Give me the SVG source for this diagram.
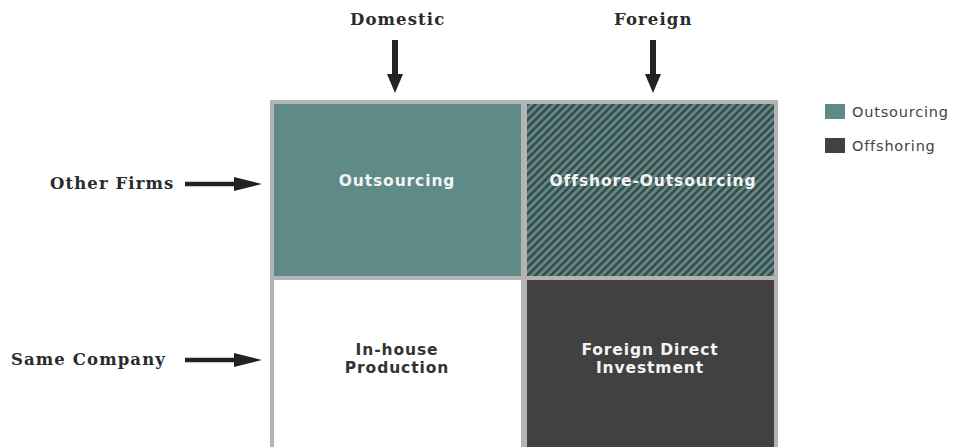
<svg xmlns="http://www.w3.org/2000/svg" width="953" height="447" viewBox="0 0 953 447">
  <style>
    .hdr { font-family: "DejaVu Serif", "Liberation Serif", serif; font-weight: bold; font-size: 16.5px; fill: #2b2b2b; letter-spacing: 1.1px; }
    .cell { font-family: "DejaVu Sans", "Liberation Sans", sans-serif; font-weight: bold; font-size: 15.5px; text-anchor: middle; letter-spacing: 0.9px; }
    .light { fill: #f4f4f4; }
    .dark { fill: #333333; }
    .leg { font-family: "DejaVu Sans", "Liberation Sans", sans-serif; font-size: 14.5px; fill: #444444; letter-spacing: 0.8px; }
    .arrow { stroke: #232323; fill: none; }
    .head { fill: #232323; }
  </style>
  <defs>
    <pattern id="hatch" patternUnits="userSpaceOnUse" width="5.5" height="5.5" patternTransform="rotate(45)">
      <rect x="0" y="0" width="5.5" height="5.5" fill="#5e8b88"/>
      <rect x="0" y="0" width="2.6" height="5.5" fill="#3c4847"/>
    </pattern>
  </defs>
  <rect width="953" height="447" fill="#ffffff"/>

  <g id="frame">
    <rect x="270" y="100" width="508" height="352" fill="#b3b3b3"/>
  </g>

  <g id="cell-outsourcing">
    <rect x="274" y="104" width="247" height="172" fill="#5e8b88"/>
    <text class="cell light" x="397" y="186">Outsourcing</text>
  </g>
  <g id="cell-offshore-outsourcing">
    <rect x="527" y="104" width="247" height="172" fill="url(#hatch)"/>
    <text class="cell light" x="653" y="186">Offshore-Outsourcing</text>
  </g>
  <g id="cell-inhouse">
    <rect x="274" y="280" width="247" height="172" fill="#ffffff"/>
    <text class="cell dark" x="397" y="355">In-house</text>
    <text class="cell dark" x="397" y="373">Production</text>
  </g>
  <g id="cell-fdi">
    <rect x="527" y="280" width="247" height="172" fill="#414141"/>
    <text class="cell light" x="650" y="355">Foreign Direct</text>
    <text class="cell light" x="650" y="373">Investment</text>
  </g>

  <g id="label-domestic"><text class="hdr" x="350" y="25">Domestic</text></g>
  <g id="label-foreign"><text class="hdr" x="614" y="25">Foreign</text></g>
  <g id="label-other-firms"><text class="hdr" x="50" y="189">Other Firms</text></g>
  <g id="label-same-company"><text class="hdr" x="11" y="365">Same Company</text></g>

  <g id="legend">
    <rect x="825" y="104" width="20" height="15" fill="#5e8b88"/>
    <text class="leg" x="852" y="117">Outsourcing</text>
    <rect x="825" y="138" width="20" height="15" fill="#414141"/>
    <text class="leg" x="852" y="151">Offshoring</text>
  </g>

  <g id="connectors">
    <line class="arrow" x1="395" y1="40" x2="395" y2="76" stroke-width="6"/>
    <polygon class="head" points="387,74 403,74 395,93"/>
    <line class="arrow" x1="653" y1="40" x2="653" y2="76" stroke-width="6"/>
    <polygon class="head" points="645,74 661,74 653,93"/>
    <line class="arrow" x1="185" y1="184" x2="236" y2="184" stroke-width="4.5"/>
    <polygon class="head" points="234,177 234,191 262,184"/>
    <line class="arrow" x1="185" y1="360" x2="236" y2="360" stroke-width="4.5"/>
    <polygon class="head" points="234,353 234,367 262,360"/>
  </g>
</svg>
